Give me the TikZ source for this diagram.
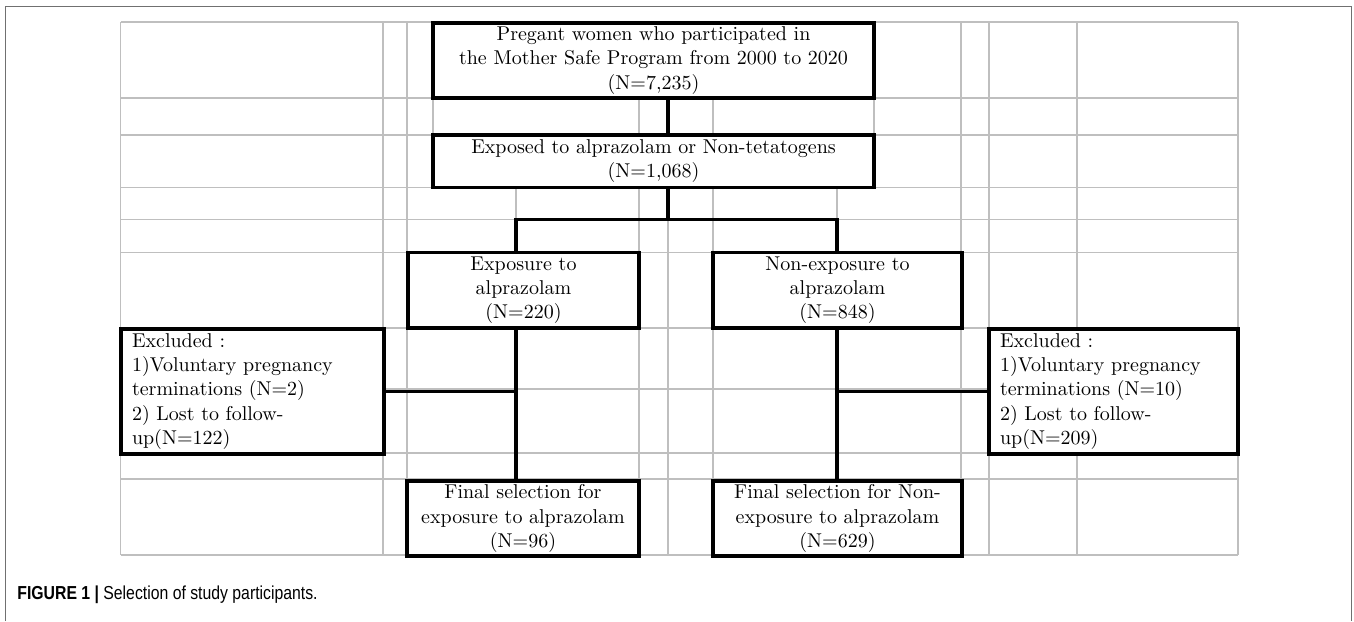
\documentclass[tikz,border=0pt]{standalone}
\usepackage{fontspec}
\newfontfamily\capfont[FakeStretch=0.84]{Liberation Sans}
\definecolor{gridgray}{HTML}{BFBFBF}
\definecolor{framegray}{HTML}{707070}

\begin{document}
\begin{tikzpicture}[
  x=0.5pt, y=-0.5pt,
  cell/.style={draw=gridgray, line width=0.6pt},
  frm/.style={draw=framegray, line width=0.6pt},
  blk/.style={draw, line width=1.75pt, fill=white, align=center, inner sep=0pt,
    font=\fontsize{10}{12.15}\selectfont},
  excl/.style={blk, align=left, inner xsep=5.5pt},
  conn/.style={draw, line width=1.75pt}
]
\useasboundingbox (0,0) rectangle (1354,621);

% sheet grid
\foreach \c in {120.7,383,407,639,668,713,961,989,1077,1238}
  \draw[cell] (\c,22) -- (\c,555);
\foreach \r in {22,98,135,187.5,219.5,252.5,328,389,453,479,555}
  \draw[cell] (120.7,\r) -- (1238,\r);
\draw[cell] (433,98) -- (433,135) (874,98) -- (874,135);
\draw[cell] (516,187.5) -- (516,219.5) (837,187.5) -- (837,219.5);

% frame
\draw[frm] (5.5,621) -- (5.5,6.5) -- (1351.5,6.5) -- (1351.5,621);

\node[blk, minimum width=220.5pt, minimum height=37.5pt] (b1) at (653.5,60.5)
  {Pregant women who participated in\\the Mother Safe Program from 2000 to 2020\\(N=7,235)};
\node[blk, minimum width=220.5pt, minimum height=26.25pt] (b2) at (653.5,161.25)
  {Exposed to alprazolam or Non-tetatogens\\(N=1,068)};
\node[blk, minimum width=115.5pt, minimum height=37.75pt] (b3) at (523.5,290.25)
  {Exposure to\\alprazolam\\(N=220)};
\node[blk, minimum width=124.5pt, minimum height=37.75pt] (b4) at (837.5,290.25)
  {Non-exposure to\\alprazolam\\(N=848)};
\node[excl, text width=120.5pt, minimum height=62.5pt] (e1) at (252.5,391.5)
  {Excluded :\\1)Voluntary pregnancy\\terminations (N=2)\\2) Lost to follow-\\up(N=122)};
\node[excl, text width=113.5pt, minimum height=62.5pt] (e2) at (1113.5,391.5)
  {Excluded :\\1)Voluntary pregnancy\\terminations (N=10)\\2) Lost to follow-\\up(N=209)};
\node[blk, minimum width=116pt, minimum height=37.5pt] (f1) at (523,518.5)
  {Final selection for\\exposure to alprazolam\\(N=96)};
\node[blk, minimum width=124.5pt, minimum height=37.5pt] (f2) at (837.5,518.5)
  {Final selection for Non-\\exposure to alprazolam\\(N=629)};

\coordinate (trunk) at (668,219.5);
\coordinate (jl) at (516,219.5);
\coordinate (jr) at (837,219.5);

% connectors
\draw[conn] (b1.south -| trunk) -- (b2.north -| trunk);
\draw[conn] (b2.south -| trunk) -- (trunk);
\draw[conn] (b3.north -| jl) -- (jl) -- (jr) -- (b4.north -| jr);
\draw[conn] (b3.south -| jl) -- (f1.north -| jl);
\draw[conn] (b4.south -| jr) -- (f2.north -| jr);
\draw[conn] (e1.east) -- (e1.east -| jl);
\draw[conn] (e2.west) -- (e2.west -| jr);

\node[anchor=base west, inner sep=0pt, font=\capfont\fontsize{9.4}{11}\selectfont] (cap)
  at (17,599.3) {\textbf{FIGURE 1 |} Selection of study participants.};
\end{tikzpicture}
\end{document}
